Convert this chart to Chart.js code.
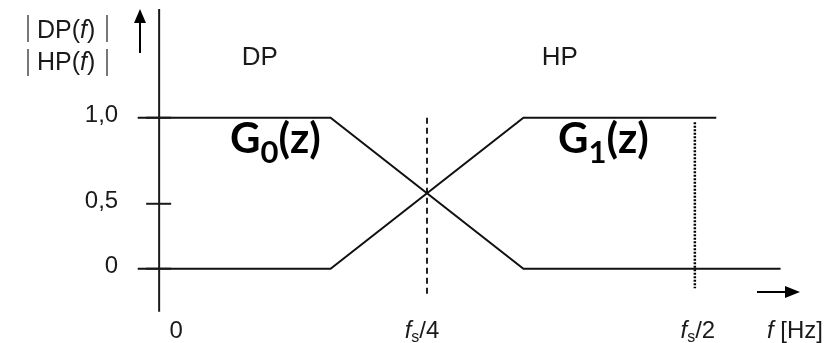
<!DOCTYPE html>
<html>
<head>
<meta charset="utf-8">
<script src="https://cdn.jsdelivr.net/npm/chart.js@4.4.1/dist/chart.umd.min.js"></script>
<style>
html, body { margin: 0; padding: 0; background: #fff; }
canvas { display: block; }
</style>
</head>
<body>
<canvas id="c" width="832" height="343"></canvas>
<script>
// frequency in units of fs, gain |H(f)|
const dpFreq = [-0.02, 0.16, 0.34, 0.58];
const dpGain = [1, 1, 0, 0];
const hpFreq = [-0.02, 0.16, 0.34, 0.52];
const hpGain = [0, 0, 1, 1];

// marker lines at fs/4 (dashed) and fs/2 (dotted)
const quarterFreq = [0.25, 0.25];
const quarterGain = [1, -0.17];
const nyquistFreq = [0.5, 0.5];
const nyquistGain = [0.97, -0.13];

// the 0,5 tick is drawn a little low in the original figure
const yTickPos = [0, 0.43, 1];
const yTickLabels = ['0', '0,5', '1,0'];
const xTickPos = [0, 0.25, 0.5];
const xTickLabels = ['0', 'fs/4', 'fs/2'];
const bandLabels = ['DP', 'HP'];
const filterLabels = [['G', '0'], ['G', '1']];

const TXT = '#1a1a1a';
const SANS = '"Liberation Sans", Arial, sans-serif';

const pts = (xs, ys) => xs.map((x, i) => ({ x, y: ys[i] }));

// draws a list of text runs side by side: [{t, font, dy}]
function runs(ctx, parts, x, y, align) {
    let w = 0;
    parts.forEach(p => { ctx.font = p.font; p.w = ctx.measureText(p.t).width; w += p.w; });
    let cx = align === 'center' ? x - w / 2 : align === 'right' ? x - w : x;
    ctx.textAlign = 'left';
    parts.forEach(p => { ctx.font = p.font; ctx.fillText(p.t, cx, y + (p.dy || 0)); cx += p.w; });
}

function fsRuns(label) {
    if (!label.startsWith('fs')) return [{ t: label, font: `24px ${SANS}` }];
    return [
        { t: 'f', font: `italic 24px ${SANS}` },
        { t: 's', font: `16px ${SANS}`, dy: 4 },
        { t: label.slice(2), font: `24px ${SANS}` },
    ];
}

const decor = {
    id: 'decor',
    afterDraw(chart) {
        const { ctx, scales: { x, y } } = chart;
        const x0 = x.getPixelForValue(0);
        ctx.save();
        ctx.strokeStyle = '#1a1a1a';
        ctx.fillStyle = TXT;
        ctx.textBaseline = 'alphabetic';

        // y axis
        ctx.lineWidth = 2;
        ctx.beginPath();
        ctx.moveTo(x0, y.getPixelForValue(-0.285));
        ctx.lineTo(x0, y.getPixelForValue(1.72));
        ctx.stroke();

        // y ticks + labels
        yTickPos.forEach((v, i) => {
            const py = y.getPixelForValue(v);
            ctx.beginPath();
            ctx.moveTo(x0 - 13, py);
            ctx.lineTo(x0 + 12, py);
            ctx.stroke();
            runs(ctx, [{ t: yTickLabels[i], font: `24px ${SANS}` }], x0 - 41, py + 4, 'right');
        });

        // x labels
        xTickPos.forEach((v, i) => {
            const px = x.getPixelForValue(v) + (i === 0 ? 17 : (i === 1 ? -5 : 3));
            runs(ctx, fsRuns(xTickLabels[i]), px, 338, 'center');
        });
        runs(ctx, [
            { t: 'f', font: `italic 24px ${SANS}` },
            { t: ' [Hz]', font: `24px ${SANS}` },
        ], 767, 338, 'left');

        // y title
        ctx.fillStyle = '#777';
        ctx.fillRect(27, 15, 2, 27);
        ctx.fillRect(106, 15, 2, 27);
        ctx.fillRect(27, 49, 2, 27);
        ctx.fillRect(106, 49, 2, 27);
        ctx.fillStyle = TXT;
        runs(ctx, [
            { t: 'DP(', font: `25px ${SANS}` },
            { t: 'f', font: `italic 25px ${SANS}` },
            { t: ')', font: `25px ${SANS}` },
        ], 37, 38, 'left');
        runs(ctx, [
            { t: 'HP(', font: `25px ${SANS}` },
            { t: 'f', font: `italic 25px ${SANS}` },
            { t: ')', font: `25px ${SANS}` },
        ], 37, 70, 'left');

        // band names
        runs(ctx, [{ t: bandLabels[0], font: `26px ${SANS}` }], x.getPixelForValue(0.094), 65, 'center');
        runs(ctx, [{ t: bandLabels[1], font: `26px ${SANS}` }], x.getPixelForValue(0.374), 65, 'center');

        // filter names
        ctx.fillStyle = '#000';
        [[230, filterLabels[0]], [558, filterLabels[1]]].forEach(([px, f]) => {
            runs(ctx, [
                { t: f[0], font: `bold 42px Lato, ${SANS}` },
                { t: f[1], font: `bold 31px Lato, ${SANS}`, dy: 10 },
                { t: '(z)', font: `bold 42px Lato, ${SANS}` },
            ], px, 153, 'left');
        });

        // arrows
        ctx.lineWidth = 2;
        ctx.fillStyle = '#000';
        ctx.strokeStyle = '#000';
        ctx.beginPath();
        ctx.moveTo(140, 53); ctx.lineTo(140, 20); ctx.stroke();
        ctx.beginPath();
        ctx.moveTo(140, 9); ctx.lineTo(134, 23); ctx.lineTo(146, 23); ctx.closePath(); ctx.fill();
        ctx.beginPath();
        ctx.moveTo(757, 292); ctx.lineTo(788, 292); ctx.stroke();
        ctx.beginPath();
        ctx.moveTo(800, 292); ctx.lineTo(785, 286); ctx.lineTo(785, 298); ctx.closePath(); ctx.fill();
        ctx.restore();
    }
};

new Chart(document.getElementById('c'), {
    type: 'scatter',
    data: {
        datasets: [
            { label: 'DP', data: pts(dpFreq, dpGain), showLine: true, borderColor: '#111', borderWidth: 2, pointRadius: 0, tension: 0 },
            { label: 'HP', data: pts(hpFreq, hpGain), showLine: true, borderColor: '#111', borderWidth: 2, pointRadius: 0, tension: 0 },
            { label: 'fs/4', data: pts(quarterFreq, quarterGain), showLine: true, borderColor: '#222', borderWidth: 2, borderDash: [6, 4], pointRadius: 0 },
            { label: 'fs/2', data: pts(nyquistFreq, nyquistGain), showLine: true, borderColor: '#000', borderWidth: 2.5, borderDash: [2, 1.5], pointRadius: 0 },
        ]
    },
    options: {
        responsive: false,
        animation: false,
        devicePixelRatio: 1,
        layout: { padding: { left: 52, right: 30, top: 9, bottom: 29 } },
        scales: {
            x: { type: 'linear', min: -0.1, max: 0.6, display: false },
            y: { type: 'linear', min: -0.3, max: 1.72, display: false }
        },
        plugins: { legend: { display: false }, tooltip: { enabled: false } }
    },
    plugins: [decor]
});
</script>
</body>
</html>
